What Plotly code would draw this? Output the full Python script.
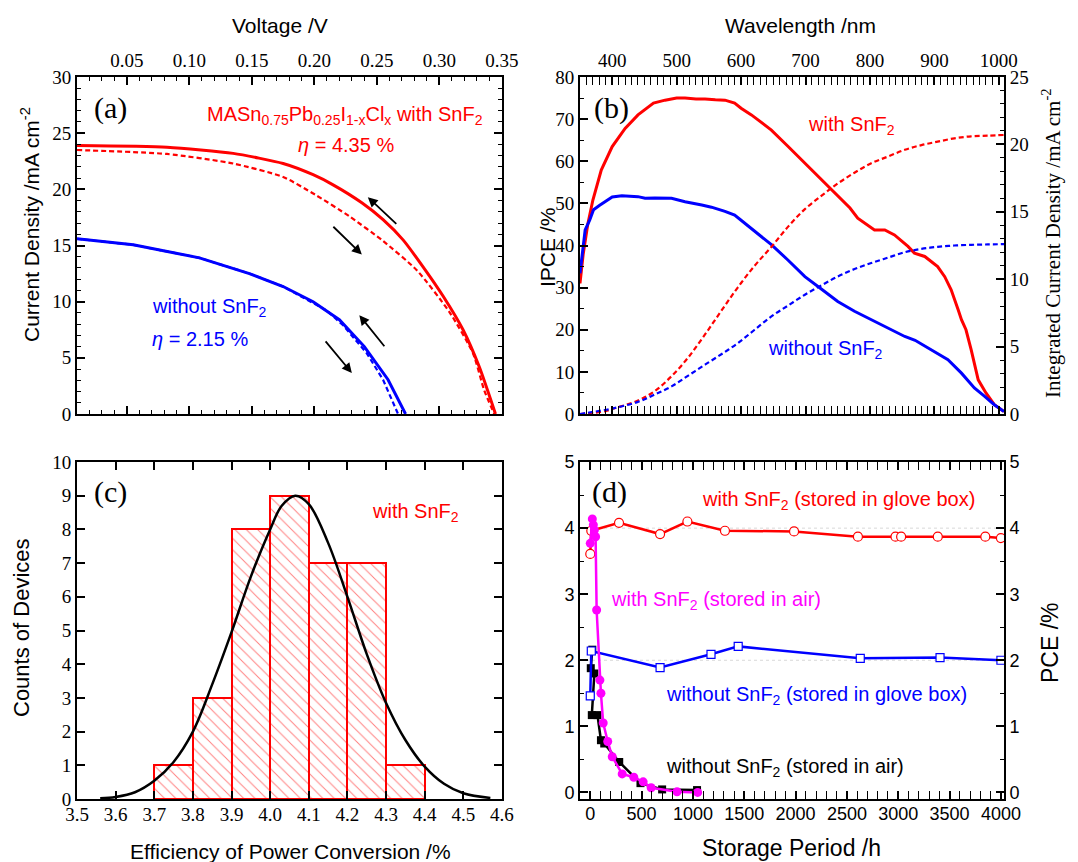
import plotly.graph_objects as go

# ---------------- Panel (a): J-V curves ----------------
v_red_rev = [0.010, 0.082, 0.135, 0.175, 0.199, 0.215, 0.238, 0.255, 0.271, 0.287, 0.303, 0.319, 0.332, 0.345]
j_red_rev = [23.9, 23.75, 23.2, 22.3, 21.3, 20.4, 18.8, 17.3, 15.5, 13.1, 10.5, 7.5, 4.2, 0.0]
v_red_fwd = [0.010, 0.082, 0.135, 0.175, 0.201, 0.228, 0.255, 0.282, 0.308, 0.327, 0.336, 0.344]
j_red_fwd = [23.5, 23.15, 22.3, 21.1, 19.5, 17.6, 15.4, 12.8, 9.1, 5.4, 2.1, 0.0]
v_blue_rev = [0.010, 0.055, 0.108, 0.148, 0.175, 0.199, 0.220, 0.240, 0.259, 0.273]
j_blue_rev = [15.6, 15.06, 13.9, 12.5, 11.35, 10.0, 8.4, 6.0, 3.05, 0.0]
v_blue_fwd = [0.010, 0.055, 0.108, 0.148, 0.175, 0.199, 0.210, 0.223, 0.242, 0.255, 0.267]
j_blue_fwd = [15.6, 15.06, 13.9, 12.5, 11.35, 9.9, 9.2, 7.9, 5.4, 3.05, 0.0]
# arrows (tail V, tail J, head V, head J)
arrows_a = [(0.2668, 16.8, 0.2428, 19.3), (0.214, 16.8, 0.238, 14.2),
            (0.257, 5.9, 0.236, 8.8), (0.208, 6.6, 0.230, 3.65)]

# ---------------- Panel (b): IPCE ----------------
lam_red = [350, 355, 362, 370, 383, 400, 420, 440, 464, 482, 500, 513, 530, 544, 560, 575, 590, 600, 616,
           647, 673, 699, 725, 750, 769, 781, 807, 823, 838, 859, 869, 885, 905, 916, 926, 937, 942, 949,
           957, 968, 980, 993, 1008]
ipce_red = [31, 38, 45, 50.8, 57.9, 63.5, 67.8, 71, 73.8, 74.5, 75, 75, 74.8, 74.8, 74.6, 74.5, 73.8, 72.6, 71,
            67.4, 63.5, 59.5, 55.6, 51.6, 48.9, 46.5, 43.7, 43.7, 42.5, 39.8, 38.2, 37.4, 35, 32.6, 29.5, 24.7,
            22.4, 20, 15.3, 8.1, 5.0, 2.2, 0.6]
lam_blue = [350, 358, 365, 371, 380, 389, 400, 415, 440, 451, 466, 492, 513, 539, 554, 575, 590, 600, 616,
            647, 673, 699, 725, 750, 776, 802, 828, 854, 870, 895, 921, 942, 962, 978, 993, 1008]
ipce_blue = [33.4, 43.7, 46, 48.5, 49.5, 50.4, 51.5, 51.8, 51.6, 51.2, 51.3, 51.2, 50.4, 49.6, 49.1, 48.1, 47.2,
             46, 44, 40.2, 36.5, 32.6, 29.6, 26.7, 24.4, 22.4, 20.4, 18.4, 17.5, 15.3, 12.9, 9.7, 6.2, 4.2, 2.2, 0.6]
lam_int = [350, 389, 400, 440, 466, 492, 518, 544, 570, 595, 621, 647, 673, 699, 725, 750, 776, 802, 828,
           854, 880, 905, 931, 957, 983, 1008]
jint_red = [0, 0.2, 0.37, 1.0, 1.7, 2.8, 4.2, 5.9, 7.7, 9.4, 11.0, 12.4, 13.9, 15.2, 16.2, 17.1, 17.9, 18.6,
            19.1, 19.6, 19.95, 20.2, 20.45, 20.6, 20.65, 20.7]
jint_blue = [0, 0.3, 0.4, 0.9, 1.45, 2.05, 2.85, 3.66, 4.45, 5.26, 6.25, 7.24, 8.05, 8.85, 9.55, 10.2, 10.75,
             11.2, 11.6, 12.0, 12.25, 12.4, 12.5, 12.55, 12.58, 12.6]

# ---------------- Panel (c): histogram ----------------
bin_centers = [3.75, 3.85, 3.95, 4.05, 4.15, 4.25, 4.35]
counts = [1, 3, 8, 9, 7, 7, 1]
fit_x = [3.56, 3.60, 3.65, 3.70, 3.75, 3.80, 3.85, 3.90, 3.95, 4.00, 4.03, 4.065, 4.10, 4.15, 4.20,
         4.25, 4.30, 4.35, 4.40, 4.45, 4.50, 4.57]
fit_y = [0.02, 0.06, 0.2, 0.54, 1.1, 2.0, 3.4, 4.95, 6.6, 8.0, 8.7, 9.0, 8.75, 7.6, 6.0, 4.3, 2.85, 1.75,
         0.96, 0.45, 0.17, 0.03]

# ---------------- Panel (d): stability ----------------
t_red_gb = [0, 10, 280, 680, 946, 1312, 1985, 2607, 2973, 3028, 3385, 3848, 4000]
p_red_gb = [3.61, 3.96, 4.08, 3.91, 4.10, 3.96, 3.95, 3.87, 3.87, 3.87, 3.87, 3.87, 3.85]
t_blue_gb = [0, 10, 680, 1176, 1441, 2630, 3407, 4000]
p_blue_gb = [1.46, 2.14, 1.89, 2.09, 2.21, 2.03, 2.04, 2.00]
t_mag_air = [0, 20, 30, 40, 52, 62, 94, 104, 126, 170, 214, 311, 424, 515, 593, 845, 1046]
p_mag_air = [3.77, 4.14, 4.05, 3.97, 3.87, 2.76, 1.70, 1.50, 1.05, 0.77, 0.54, 0.28, 0.23, 0.16, 0.07, 0.01, 0.0]
t_blk_air = [20, 5, 40, 15, 70, 104, 136, 282, 489, 700, 1040]
p_blk_air = [2.16, 1.88, 1.80, 1.17, 1.17, 0.79, 0.74, 0.46, 0.14, 0.045, 0.035]

RED, BLUE, MAG = "#ff0000", "#0000ff", "#ff00ff"
SERIF = "Liberation Serif"
SANS = "Liberation Sans"
DASH = "5px,3px"

# page body has an 8px margin: size the figure to the remaining window area
OFF = 8
W, H = 1078 - OFF, 862 - OFF
def px(X):
    return (X - OFF) / W
def py(Y):
    return 1 - (Y - OFF) / H

fig = go.Figure()

# (a)
fig.add_trace(go.Scatter(x=v_red_rev, y=j_red_rev, mode="lines", line=dict(color=RED, width=3, shape="spline", smoothing=0.6), xaxis="x", yaxis="y"))
fig.add_trace(go.Scatter(x=v_red_fwd, y=j_red_fwd, mode="lines", line=dict(color=RED, width=2.2, dash=DASH, shape="spline", smoothing=0.6), xaxis="x", yaxis="y"))
fig.add_trace(go.Scatter(x=v_blue_fwd, y=j_blue_fwd, mode="lines", line=dict(color=BLUE, width=2.2, dash=DASH), xaxis="x", yaxis="y"))
fig.add_trace(go.Scatter(x=v_blue_rev, y=j_blue_rev, mode="lines", line=dict(color=BLUE, width=3), xaxis="x", yaxis="y"))

# (b)
fig.add_trace(go.Scatter(x=lam_red, y=ipce_red, mode="lines", line=dict(color=RED, width=3), xaxis="x2", yaxis="y2"))
fig.add_trace(go.Scatter(x=lam_blue, y=ipce_blue, mode="lines", line=dict(color=BLUE, width=3), xaxis="x2", yaxis="y2"))
fig.add_trace(go.Scatter(x=lam_int, y=jint_red, mode="lines", line=dict(color=RED, width=2.2, dash=DASH, shape="spline"), xaxis="x2", yaxis="y3"))
fig.add_trace(go.Scatter(x=lam_int, y=jint_blue, mode="lines", line=dict(color=BLUE, width=2.2, dash=DASH, shape="spline"), xaxis="x2", yaxis="y3"))

# (c)
fig.add_trace(go.Bar(x=bin_centers, y=counts, width=0.1, xaxis="x3", yaxis="y4",
                     marker=dict(color="white", line=dict(color=RED, width=2),
                                 pattern=dict(shape="\\", fgcolor=RED, bgcolor="white", size=8, solidity=0.12))))
fig.add_trace(go.Scatter(x=fit_x, y=fit_y, mode="lines", line=dict(color="black", width=2.5, shape="spline"), xaxis="x3", yaxis="y4"))

# (d)
fig.add_trace(go.Scatter(x=t_blk_air, y=p_blk_air, mode="lines+markers", line=dict(color="black", width=2.5),
                         marker=dict(symbol="square", size=8, color="black"), xaxis="x4", yaxis="y5"))
fig.add_trace(go.Scatter(x=t_red_gb, y=p_red_gb, mode="lines+markers", line=dict(color=RED, width=2.5),
                         marker=dict(symbol="circle", size=9, color="white", line=dict(color=RED, width=1.2)), xaxis="x4", yaxis="y5"))
fig.add_trace(go.Scatter(x=t_blue_gb, y=p_blue_gb, mode="lines+markers", line=dict(color=BLUE, width=2.5),
                         marker=dict(symbol="square", size=8, color="white", line=dict(color=BLUE, width=1.2)), xaxis="x4", yaxis="y5"))
fig.add_trace(go.Scatter(x=t_mag_air, y=p_mag_air, mode="lines+markers", line=dict(color=MAG, width=2.5),
                         marker=dict(symbol="circle", size=9, color=MAG), xaxis="x4", yaxis="y5"))
fig.add_trace(go.Scatter(x=[None], y=[None], mode="lines", xaxis="x4", yaxis="y6", showlegend=False))

# domains (reference pixel edges)
XA = [px(77), px(502)]
XB = [px(580), px(1004)]
YT = [py(414), py(77)]
YB = [py(799), py(462)]

def ax(**kw):
    base = dict(showline=True, linecolor="black", linewidth=2, ticks="inside", ticklen=8, tickwidth=1.6,
                tickcolor="black", showgrid=False, zeroline=False, automargin=False)
    base.update(kw)
    return base

serif_tick = dict(family=SERIF, size=19, color="black")
sans_tick = dict(family=SANS, size=18, color="black")
minor = lambda d: dict(ticks="inside", ticklen=4, tickwidth=1.4, tickcolor="black", dtick=d, showgrid=False)

fig.update_layout(
    width=W, height=H, margin=dict(l=0, r=0, t=0, b=0, autoexpand=False),
    paper_bgcolor="white", plot_bgcolor="white", showlegend=False, barmode="overlay", bargap=0,
    xaxis=ax(domain=XA, anchor="y", side="top", range=[0.01, 0.3502], tick0=0, dtick=0.05, tickformat=".2f",
             mirror="allticks", minor=minor(0.01), tickfont=serif_tick),
    yaxis=ax(domain=YT, anchor="x", range=[0, 30], dtick=5, mirror="allticks", minor=minor(1), tickfont=serif_tick),
    xaxis2=ax(domain=XB, anchor="y2", side="top", range=[350, 1008], tick0=0, dtick=100, mirror="allticks",
              minor=minor(10), tickfont=serif_tick),
    yaxis2=ax(domain=YT, anchor="x2", range=[0, 80], dtick=10, minor=minor(5), tickfont=serif_tick),
    yaxis3=ax(domain=YT, anchor="x2", overlaying="y2", side="right", range=[0, 25], dtick=5, minor=minor(1),
              tickfont=serif_tick),
    xaxis3=ax(domain=XA, anchor="y4", range=[3.5, 4.6001], tick0=3.5, dtick=0.1, tickformat=".1f", mirror="allticks",
              tickfont=serif_tick, ticklabelstandoff=-3),
    yaxis4=ax(domain=YB, anchor="x3", range=[0, 10], dtick=1, mirror="allticks", tickfont=serif_tick),
    xaxis4=ax(domain=XB, anchor="y5", range=[-100, 4030], tick0=0, dtick=500, mirror="allticks", minor=minor(100),
              tickfont=sans_tick, ticklabelstandoff=-3),
    yaxis5=ax(domain=YB, anchor="x4", range=[-0.1, 5.001], dtick=1, minor=minor(0.5), tickfont=sans_tick),
    yaxis6=ax(domain=YB, anchor="x4", overlaying="y5", side="right", range=[-0.1, 5.001], dtick=1, minor=minor(0.5),
              tickfont=sans_tick),
)

# faint reference lines in (d)
for yv in (2, 4):
    fig.add_shape(type="line", xref="x4 domain", x0=0, x1=1, yref="y5", y0=yv, y1=yv,
                  line=dict(color="#d8d8d8", width=1, dash="dot"), layer="below")

ann = []
def txt(X, Y, text, color, size=20, family=SANS, xanchor="left", angle=0):
    ann.append(dict(x=px(X), y=py(Y), xref="paper", yref="paper", text=text, showarrow=False, textangle=angle,
                    font=dict(family=family, size=size, color=color), xanchor=xanchor, yanchor="middle"))

# axis titles
txt(280, 25, "Voltage /V", "black", 21, SANS, "center")
txt(800, 25, "Wavelength /nm", "black", 21, SANS, "center")
txt(30, 225, "Current Density /mA cm<sup>-2</sup>", "black", 21, SANS, "center", -90)
txt(548, 247, "IPCE /%", "black", 21, SANS, "center", -90)
txt(1052, 243, "Integrated Current Density /mA cm<sup>-2</sup>", "black", 21, SERIF, "center", -90)
txt(290, 851, "Efficiency of Power Conversion /%", "black", 21, SANS, "center")
txt(21, 628, "Counts of Devices", "black", 22, SANS, "center", -90)
txt(791, 848, "Storage Period /h", "black", 23, SANS, "center")
txt(1050, 643, "PCE /%", "black", 23, SANS, "center", -90)

# panel labels
txt(92, 108, "(a)", "black", 30, SERIF)
txt(592, 108, "(b)", "black", 30, SERIF)
txt(92, 492, "(c)", "black", 30, SERIF)
txt(590, 492, "(d)", "black", 30, SERIF)

# (a) texts
txt(345, 115, "MASn<sub>0.75</sub>Pb<sub>0.25</sub>I<sub>1-x</sub>Cl<sub>x</sub> with SnF<sub>2</sub>", RED, 20, SANS, "center")
txt(346, 145, "<i>η</i> = 4.35 %", RED, 20, SANS, "center")
txt(150, 307, "without SnF<sub>2</sub>", BLUE)
txt(150, 339, "<i>η</i> = 2.15 %", BLUE)
# (b) texts
txt(806, 125, "with SnF<sub>2</sub>", RED)
txt(766, 349, "without SnF<sub>2</sub>", BLUE)
# (c) text
txt(370, 512, "with SnF<sub>2</sub>", RED)
# (d) texts
txt(700, 500, "with SnF<sub>2</sub> (stored in glove box)", RED)
txt(609, 600, "with SnF<sub>2</sub> (stored in air)", MAG)
txt(664, 695, "without SnF<sub>2</sub> (stored in glove box)", BLUE)
txt(664, 767, "without SnF<sub>2</sub> (stored in air)", "black")

for (tv, tj, hv, hj) in arrows_a:
    ann.append(dict(x=hv, y=hj, ax=tv, ay=tj, xref="x", yref="y", axref="x", ayref="y", text="",
                    showarrow=True, arrowhead=2, arrowsize=1.1, arrowwidth=1.8, arrowcolor="black"))

fig.update_layout(annotations=ann)
fig.write_html("out.html")
